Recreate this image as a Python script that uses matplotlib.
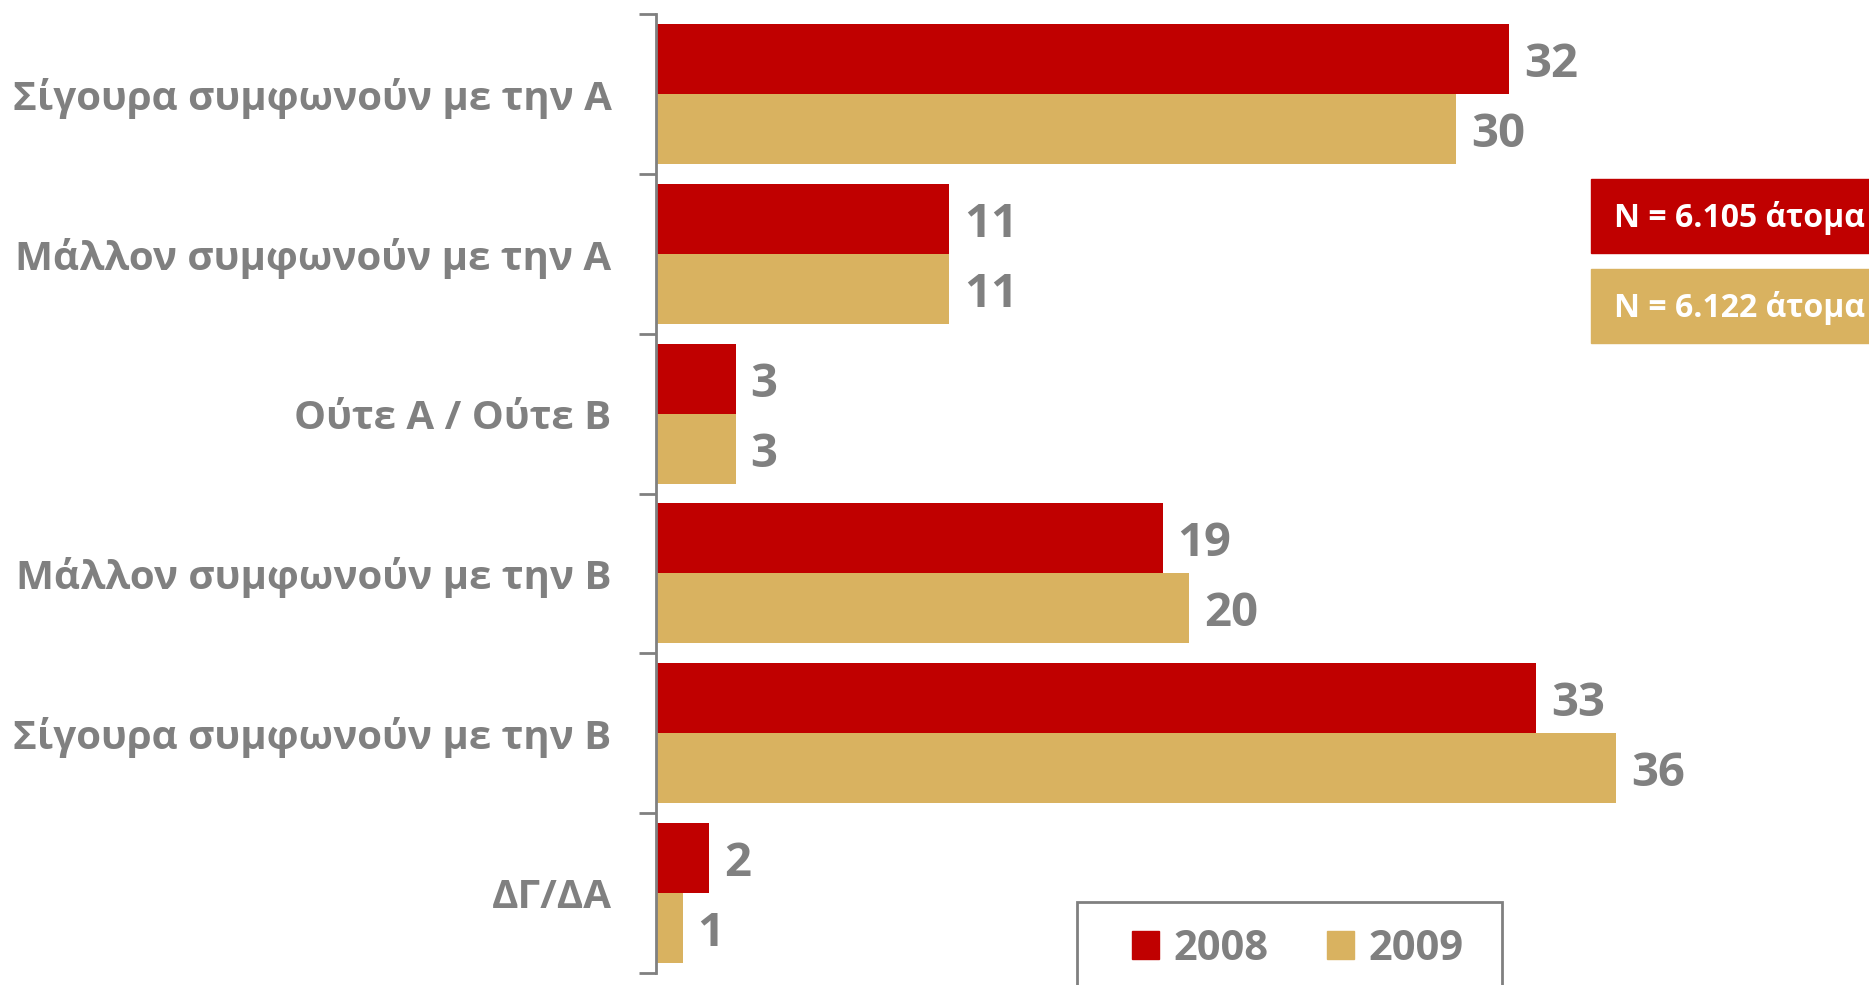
import numpy as np
import matplotlib
matplotlib.use("Agg")
import matplotlib.pyplot as plt
from matplotlib.patches import Patch

plt.rcParams["font.family"] = ["Open Sans", "DejaVu Sans"]
plt.rcParams["font.weight"] = "bold"

categories = [
    "Σίγουρα συμφωνούν με την Α",
    "Μάλλον συμφωνούν με την Α",
    "Ούτε Α / Ούτε Β",
    "Μάλλον συμφωνούν με την Β",
    "Σίγουρα συμφωνούν με την Β",
    "ΔΓ/ΔΑ",
]
values_2008 = [32, 11, 3, 19, 33, 2]
values_2009 = [30, 11, 3, 20, 36, 1]
series_labels = ["2008", "2009"]
n_labels = ["N = 6.105 άτομα", "N = 6.122 άτομα"]

red = "#C00000"
gold = "#D9B260"
grey = "#808080"

fig = plt.figure(figsize=(18.69, 9.85), dpi=100)
ax = fig.add_axes([656 / 1869, 12 / 985, 1 - 656 / 1869, 959 / 985])

y = np.arange(len(categories))
h = 0.4375
ax.barh(y - h / 2, values_2008, height=h, color=red)
ax.barh(y + h / 2, values_2009, height=h, color=gold)

for yi, v in zip(y, values_2008):
    ax.text(v + 0.55, yi - h / 2, str(v), va="center_baseline", ha="left",
            fontsize=34, color=grey, fontweight="bold")
for yi, v in zip(y, values_2009):
    ax.text(v + 0.55, yi + h / 2, str(v), va="center_baseline", ha="left",
            fontsize=34, color=grey, fontweight="bold")

ax.set_ylim(len(categories) - 0.5, -0.5)
ax.set_xlim(0, (1869 - 656) / 26.67)
ax.set_yticks(np.arange(len(categories) + 1) - 0.5)
ax.set_yticklabels([])
ax.set_yticks(y, minor=True)
ax.set_yticklabels(categories, minor=True)
ax.tick_params(axis="y", which="minor", length=0, pad=32, labelsize=29,
               labelcolor=grey)
ax.tick_params(axis="y", which="major", length=12, width=2, color=grey)
ax.set_xticks([])
for s in ["top", "right", "bottom"]:
    ax.spines[s].set_visible(False)
ax.spines["left"].set_color(grey)
ax.spines["left"].set_linewidth(2)
for lbl in ax.get_yticklabels(minor=True):
    lbl.set_fontweight("bold")

# N boxes
for i, (txt, col) in enumerate(zip(n_labels, [red, gold])):
    y0 = [179, 269][i] / 985
    fig.patches.append(plt.Rectangle((1591 / 1869, 1 - y0 - 74 / 985), 1, 74 / 985,
                                     transform=fig.transFigure, color=col))
    fig.text(1614 / 1869, 1 - y0 - 39 / 985, txt, color="white", fontsize=23,
             fontweight="bold", va="center", ha="left")

# legend frame
fig.patches.append(plt.Rectangle((1077 / 1869, -0.05), 425 / 1869, 0.05 + 1 - 902 / 985,
                                 transform=fig.transFigure, fill=False,
                                 edgecolor=grey, linewidth=2))
handles = [Patch(color=red), Patch(color=gold)]
leg = fig.legend(handles, series_labels, loc="center left",
                 bbox_to_anchor=(1132 / 1869, 1 - 949 / 985), ncol=2,
                 frameon=False, fontsize=30, borderpad=0, borderaxespad=0,
                 handlelength=0.65, handleheight=0.65, columnspacing=1.4,
                 handletextpad=0.35)
for t in leg.get_texts():
    t.set_color(grey)
    t.set_fontweight("bold")

fig.savefig("out.png", dpi=100)
